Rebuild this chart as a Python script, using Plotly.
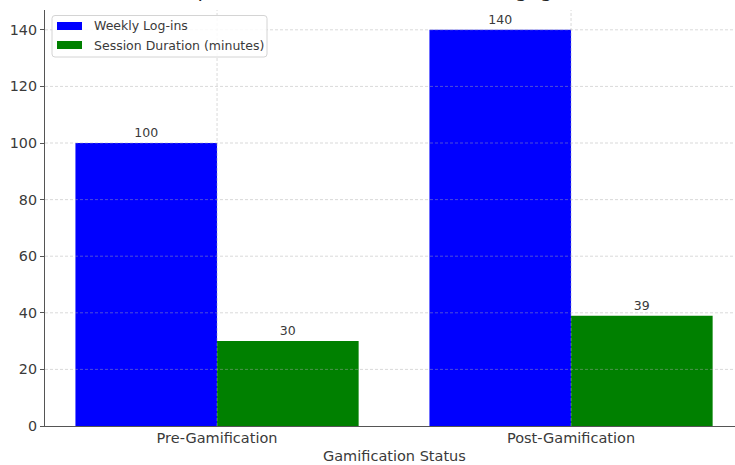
import plotly.graph_objects as go

# --- data ---------------------------------------------------------------
categories = ["Pre-Gamification", "Post-Gamification"]
weekly_logins = [100, 140]
session_minutes = [30, 39]
series_names = ["Weekly Log-ins", "Session Duration (minutes)"]
series_colors = ["#0000ff", "#008000"]
y_ticks = [0, 20, 40, 60, 80, 100, 120, 140]
title_text = "Impact of Gamification on User Engagement"
x_title = "Gamification Status"

# --- layout geometry (pixels) -------------------------------------------
W, H = 735, 465
ML, MR, MT, MB = 45, 0, 10, 39
PW, PH = W - ML - MR, H - MT - MB
FONT = "DejaVu Sans"
TXT = "#3a3a3a"


def px_x(px):
    return (px - ML) / PW


def px_y(py):
    return (H - MB - py) / PH


xpos = list(range(len(categories)))

fig = go.Figure()
for name, vals, col in zip(series_names, [weekly_logins, session_minutes], series_colors):
    fig.add_trace(go.Bar(
        x=xpos, y=vals, name=name, marker=dict(color=col, line=dict(width=0)),
        texttemplate="%{y}", textposition="outside",
        textfont=dict(family=FONT, size=12.5, color=TXT),
        cliponaxis=False, showlegend=False,
    ))

shapes = []
# dashed grid drawn over the bars
grid_style = dict(color="rgba(170,170,170,0.45)", width=1, dash="3px,2px")
for t in y_ticks[1:]:
    shapes.append(dict(type="line", xref="paper", yref="y", x0=0, x1=1, y0=t, y1=t,
                       line=grid_style, layer="above"))
for xv in xpos:
    shapes.append(dict(type="line", xref="x", yref="paper", x0=xv, x1=xv, y0=0, y1=1,
                       line=grid_style, layer="above"))

# legend box with rounded corners
lx0, lx1, ly0, ly1, r = 52, 267, 15.5, 57, 3
path = (f"M {px_x(lx0 + r)},{px_y(ly0)} L {px_x(lx1 - r)},{px_y(ly0)} "
        f"Q {px_x(lx1)},{px_y(ly0)} {px_x(lx1)},{px_y(ly0 + r)} "
        f"L {px_x(lx1)},{px_y(ly1 - r)} Q {px_x(lx1)},{px_y(ly1)} {px_x(lx1 - r)},{px_y(ly1)} "
        f"L {px_x(lx0 + r)},{px_y(ly1)} Q {px_x(lx0)},{px_y(ly1)} {px_x(lx0)},{px_y(ly1 - r)} "
        f"L {px_x(lx0)},{px_y(ly0 + r)} Q {px_x(lx0)},{px_y(ly0)} {px_x(lx0 + r)},{px_y(ly0)} Z")
shapes.append(dict(type="path", xref="paper", yref="paper", path=path,
                   fillcolor="rgba(255,255,255,0.85)", line=dict(color="#d4d4d4", width=1),
                   layer="above"))

annotations = []
for i, (name, col) in enumerate(zip(series_names, series_colors)):
    cy = 26 + i * 19
    shapes.append(dict(type="rect", xref="paper", yref="paper",
                       x0=px_x(57), x1=px_x(82), y0=px_y(cy - 4), y1=px_y(cy + 4),
                       fillcolor=col, line=dict(width=0), layer="above"))
    annotations.append(dict(xref="paper", yref="paper", x=px_x(92), y=px_y(cy),
                            xanchor="left", yanchor="middle", showarrow=False, text=name,
                            font=dict(family=FONT, size=12.5, color=TXT)))

# title (sits mostly above the page edge)
annotations.append(dict(xref="paper", yref="paper", x=px_x(394.5), y=1, yshift=6,
                        xanchor="center", yanchor="bottom", showarrow=False,
                        text=title_text, font=dict(family=FONT, size=20, color="#222222")))
# x-axis title
annotations.append(dict(xref="paper", yref="paper", x=px_x(394), y=px_y(456),
                        xanchor="center", yanchor="middle", showarrow=False,
                        text=x_title, font=dict(family=FONT, size=14.5, color=TXT)))

fig.update_layout(
    width=W, height=H,
    margin=dict(l=ML, r=MR, t=MT, b=MB, pad=0),
    paper_bgcolor="white", plot_bgcolor="white",
    barmode="group", bargap=0.2, bargroupgap=0,
    shapes=shapes, annotations=annotations,
    showlegend=False,
    font=dict(family=FONT, color=TXT),
)
fig.update_xaxes(
    range=[-0.486, -0.486 + PW / 354], tickvals=xpos, ticktext=categories,
    showgrid=False, zeroline=False, showline=True, linecolor="#555555", linewidth=1.3,
    ticks="", ticklabelstandoff=-2, tickfont=dict(family=FONT, size=14.5, color=TXT),
)
fig.update_yaxes(
    range=[0, 147], tickvals=y_ticks,
    showgrid=False, zeroline=False, showline=True, linecolor="#555555", linewidth=1.3,
    ticks="outside", ticklen=4, tickcolor="#555555", tickwidth=1,
    tickfont=dict(family=FONT, size=14.3, color=TXT),
)

fig.write_html("out.html")
